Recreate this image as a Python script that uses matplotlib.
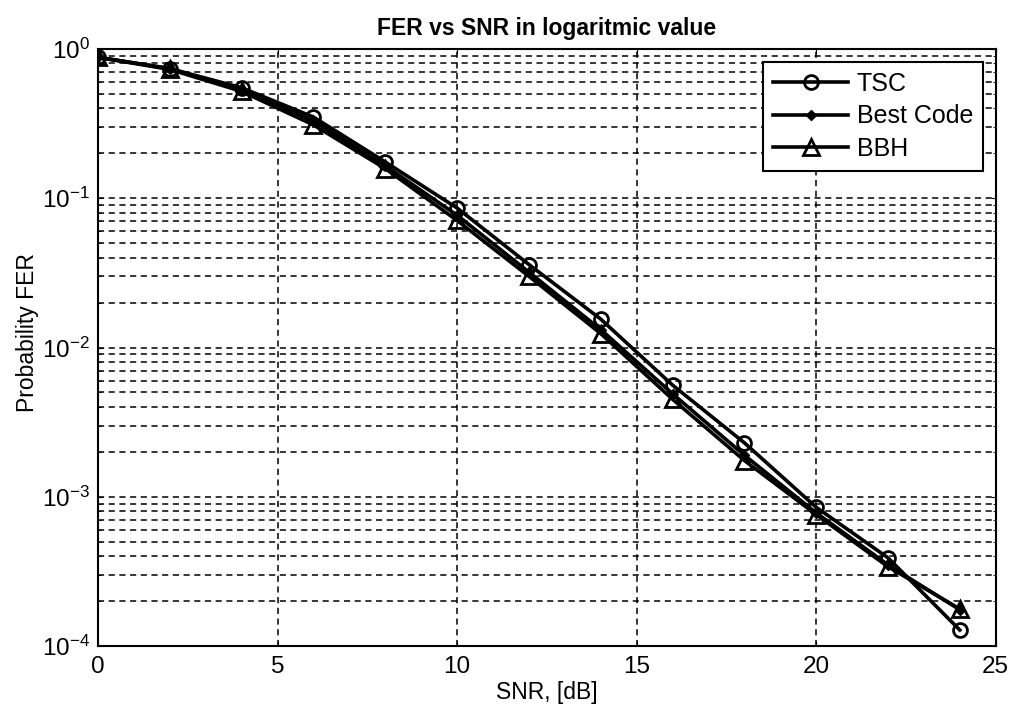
import matplotlib
matplotlib.use('Agg')
import matplotlib.pyplot as plt
import numpy as np

# -- data --
snr_db = [0, 2, 4, 6, 8, 10, 12, 14, 16, 18, 20, 22, 24]
fer_tsc = [0.88, 0.74, 0.55, 0.35, 0.175, 0.086, 0.036, 0.0155, 0.0056, 0.0023, 0.00085, 0.00039, 0.000128]
fer_best = [0.88, 0.74, 0.53, 0.33, 0.165, 0.077, 0.032, 0.0132, 0.0049, 0.0019, 0.00078, 0.00035, 0.000175]
fer_bbh = [0.88, 0.73, 0.52, 0.31, 0.158, 0.071, 0.030, 0.0124, 0.0045, 0.00175, 0.00076, 0.00034, 0.000177]

plt.rcParams['font.family'] = ['Liberation Sans', 'DejaVu Sans']
plt.rcParams['mathtext.fontset'] = 'custom'
plt.rcParams['mathtext.rm'] = 'Liberation Sans'
plt.rcParams['mathtext.it'] = 'Liberation Sans'
plt.rcParams['mathtext.bf'] = 'Liberation Sans:bold'
plt.rcParams['axes.unicode_minus'] = False

fig = plt.figure(figsize=(10.15, 7.19), dpi=100)
ax = fig.add_axes([0.0966, 0.1015, 0.8844, 0.8303])

ax.semilogy(snr_db, fer_tsc, color='black', lw=2.6, marker='o', ms=10,
            mfc='none', mew=2, label='TSC')
ax.semilogy(snr_db, fer_best, color='black', lw=2.6, marker='D', ms=5,
            mfc='black', label='Best Code')
ax.semilogy(snr_db, fer_bbh, color='black', lw=2.6, marker='^', ms=12,
            mfc='none', mew=2, label='BBH')

ax.set_xlim(0, 25)
ax.set_ylim(1e-4, 1)
ax.set_xticks([0, 5, 10, 15, 20, 25])

ax.grid(True, which='major', axis='both', color='black', ls=(0, (4, 3)), lw=1.1)
ax.grid(True, which='minor', axis='y', color='black', ls=(0, (4, 3)), lw=1.1)
ax.tick_params(which='both', direction='in', top=True, right=True, labelsize=17.5)
ax.tick_params(axis='x', pad=7)
ax.tick_params(axis='y', pad=6)
for s in ax.spines.values():
    s.set_linewidth(1.5)

ax.set_title('FER vs SNR in logaritmic value', fontsize=16.5, fontweight='bold', pad=10)
ax.set_xlabel('SNR, [dB]', fontsize=16.5, labelpad=2)
ax.set_ylabel('Probability FER', fontsize=16.5)
ax.yaxis.set_label_coords(-0.066, 0.525)

leg = ax.legend(loc='upper right', prop={'size': 18}, frameon=True,
                fancybox=False, edgecolor='black', framealpha=1, handlelength=3,
                handletextpad=0.35, labelspacing=0.35, borderpad=0.4,
                borderaxespad=0.5)
leg.get_frame().set_linewidth(1.5)

plt.savefig('out.png', dpi=100)
